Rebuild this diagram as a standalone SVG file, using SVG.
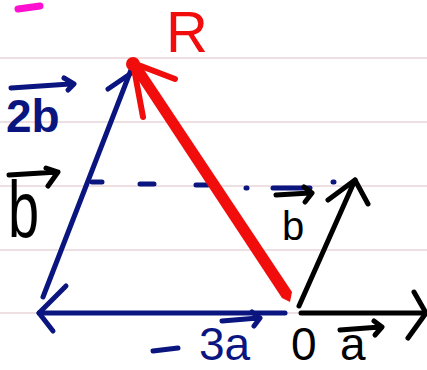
<svg xmlns="http://www.w3.org/2000/svg" width="427" height="370" viewBox="0 0 427 370">
<style>
.rule{stroke:#eddfe2;stroke-width:2}
.blue{stroke:#0b1580;fill:none;stroke-linecap:round;stroke-linejoin:round}
.blk{stroke:#000;fill:none;stroke-linecap:round;stroke-linejoin:round}
.red{stroke:#f20d0d;fill:none;stroke-linecap:round;stroke-linejoin:round}
.t{font-family:"Liberation Sans","DejaVu Sans",sans-serif}
</style>
<rect width="427" height="370" fill="#fff"/>
<g id="ruling">
<line class="rule" x1="0" y1="58" x2="427" y2="58"/>
<line class="rule" x1="0" y1="122" x2="427" y2="122"/>
<line class="rule" x1="0" y1="186" x2="427" y2="186"/>
<line class="rule" x1="0" y1="250" x2="427" y2="250"/>
<line class="rule" x1="0" y1="313" x2="427" y2="313"/>
</g>
<path d="M18 9 L40 6" stroke="#ff10d0" stroke-width="7" stroke-linecap="round"/>
<g id="connectors">
<path class="blue" stroke-width="5" d="M131 70 L43 297"/>
<path class="blue" stroke-width="5" d="M108 89 L130 74"/>
<path class="blue" stroke-width="5" d="M39 313 L285 313"/>
<path class="blue" stroke-width="5" d="M66 286 L39 313 L53 331"/>
<path class="blue" stroke-width="5" d="M92 182 L102 182 M140 184 L154 184 M196 185 L208 185 M246 188 L247 188 M273 188 L310 188 M333 182 L334 182"/>
<path class="blk" stroke-width="5" d="M299 306 L355 180"/>
<path class="blk" stroke-width="5" d="M328 200 L355 180 L368 204"/>
<path class="blk" stroke-width="5" d="M301 313 L426 313"/>
<path class="blk" stroke-width="5" d="M414 292 L426 313 L408 338"/>
<path d="M129 66 L139 62 L292 292 L290 302 L282 298 Z" fill="#f20d0d"/>
<path class="red" stroke-width="6" d="M175 79 L133 63 L143 117"/>
<circle cx="133" cy="64" r="7" fill="#f20d0d"/>
</g>
<g id="labels">
<text class="t" x="166" y="52" font-size="58" fill="#f20d0d">R</text>
<text class="t" x="6" y="132" font-size="46" font-weight="bold" fill="#0b1580">2b</text>
<path class="blue" stroke-width="5" d="M11 88 L70 84 M64 78 L74 84 L68 90"/>
<text class="t" transform="translate(8,237) scale(0.7,1)" x="0" y="0" font-size="80" fill="#000">b</text>
<path class="blk" stroke-width="5" d="M9 175 L58 172 M46 168 L58 172 L48 186"/>
<text class="t" x="282" y="240" font-size="40" fill="#000">b</text>
<path class="blk" stroke-width="5" d="M276 195 L310 193 M304 187 L312 193 L305 202"/>
<path class="blue" stroke-width="5" d="M153 351 L178 348"/>
<text class="t" x="199" y="360" font-size="46" fill="#0b1580">3a</text>
<path class="blue" stroke-width="5" d="M222 321 L258 318 M252 312 L260 318 L254 326"/>
<text class="t" x="291" y="360" font-size="46" fill="#000">0</text>
<text class="t" x="340" y="360" font-size="46" fill="#000">a</text>
<path class="blk" stroke-width="5" d="M340 330 L380 327 M374 321 L382 327 L375 335"/>
</g>
</svg>
